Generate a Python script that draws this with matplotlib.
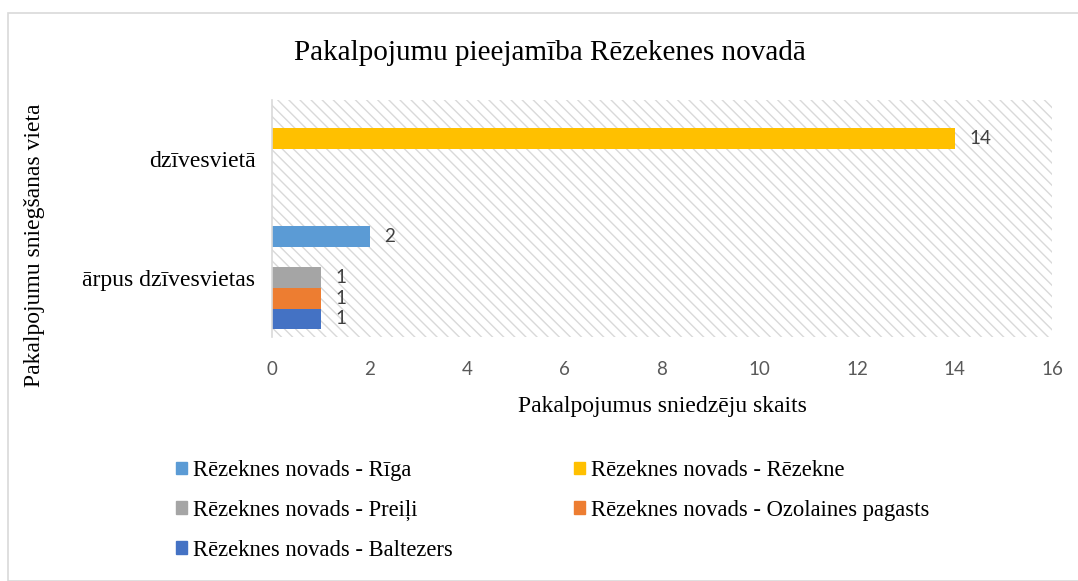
import matplotlib
matplotlib.use("Agg")
import matplotlib.pyplot as plt
from matplotlib.patches import Rectangle, Patch
import numpy as np

categories = ["ārpus dzīvesvietas", "dzīvesvietā"]
series_names = ["Rēzeknes novads - Rīga", "Rēzeknes novads - Rēzekne",
                "Rēzeknes novads - Preiļi", "Rēzeknes novads - Ozolaines pagasts",
                "Rēzeknes novads - Baltezers"]
# values per series: [ārpus dzīvesvietas, dzīvesvietā]
riga = [2, 0]
rezekne = [0, 14]
preili = [1, 0]
ozolaine = [1, 0]
baltezers = [1, 0]
colors = ["#5B9BD5", "#FFC000", "#A5A5A5", "#ED7D31", "#4472C4"]

title = "Pakalpojumu pieejamība Rēzekenes novadā"
xlabel = "Pakalpojumus sniedzēju skaits"
ylabel = "Pakalpojumu sniegšanas vieta"
xticks = [0, 2, 4, 6, 8, 10, 12, 14, 16]

serif = ["Liberation Serif", "DejaVu Serif"]
sans = ["Lato", "DejaVu Sans"]

plt.rcParams["hatch.color"] = "#d9d9d9"
plt.rcParams["hatch.linewidth"] = 1.0

fig = plt.figure(figsize=(10.78, 5.81), dpi=100)
W, H = 1078, 581
fig.patches.append(Rectangle((8 / W, 0), 1.2, 1 - 13 / H, transform=fig.transFigure,
                             fill=False, edgecolor="#d9d9d9", linewidth=1.2))

ax = fig.add_axes([272 / W, 1 - 337 / H, (1052 - 272) / W, (337 - 100) / H])
ax.add_patch(Rectangle((0, 0), 1, 1, transform=ax.transAxes, facecolor="white",
                       edgecolor="#d9d9d9", hatch="\\\\\\", linewidth=0, zorder=0))

# draw order bottom-to-top within a category
order = [(baltezers, colors[4]), (ozolaine, colors[3]), (preili, colors[2]),
         (rezekne, colors[1]), (riga, colors[0])]
bh = 0.173
y = np.arange(len(categories))
for i, (vals, c) in enumerate(order):
    pos = y + (i - 2) * bh
    bars = ax.barh(pos, vals, height=bh, color=c, zorder=2)
    for b, v in zip(bars, vals):
        if v:
            ax.text(v + 0.3, b.get_y() + b.get_height() / 2, str(v), va="center",
                    ha="left", fontsize=13.5, color="#404040", family=sans)

ax.set_xlim(0, 16)
ax.set_ylim(-0.5, 1.5)
ax.set_xticks(xticks)
ax.set_xticklabels([str(t) for t in xticks], family=sans, fontsize=13.5, color="#595959")
ax.set_yticks(y)
ax.set_yticklabels(categories, family=serif, fontsize=17, color="black")
ax.tick_params(axis="both", length=0)
ax.tick_params(axis="x", pad=17)
ax.tick_params(axis="y", pad=12)
for s in ["top", "right", "bottom"]:
    ax.spines[s].set_visible(False)
ax.spines["left"].set_color("#d9d9d9")
ax.spines["left"].set_linewidth(1.2)

ax.set_xlabel(xlabel, family=serif, fontsize=17, labelpad=13)
fig.text(35 / W, 1 - 245 / H, ylabel, rotation=90, ha="center", va="center",
         family=serif, fontsize=17)
fig.text(550 / W, 1 - 53 / H, title, ha="center", va="center", family=serif, fontsize=21)

# legend filled column by column: col1 = Rīga, Preiļi, Baltezers; col2 = Rēzekne, Ozolaines
leg_idx = [0, 2, 4, 1, 3]
handles = [Patch(color=colors[i]) for i in leg_idx]
labels = [series_names[i] for i in leg_idx]
fig.legend(handles, labels, loc="upper left", bbox_to_anchor=(176 / W, 1 - 460 / H),
           ncol=2, frameon=False, prop={"family": serif, "size": 16.3},
           handlelength=0.5, handleheight=0.5, handletextpad=0.25,
           columnspacing=5.35, labelspacing=0.83, borderaxespad=0, borderpad=0)

fig.savefig("out.png", dpi=100)
